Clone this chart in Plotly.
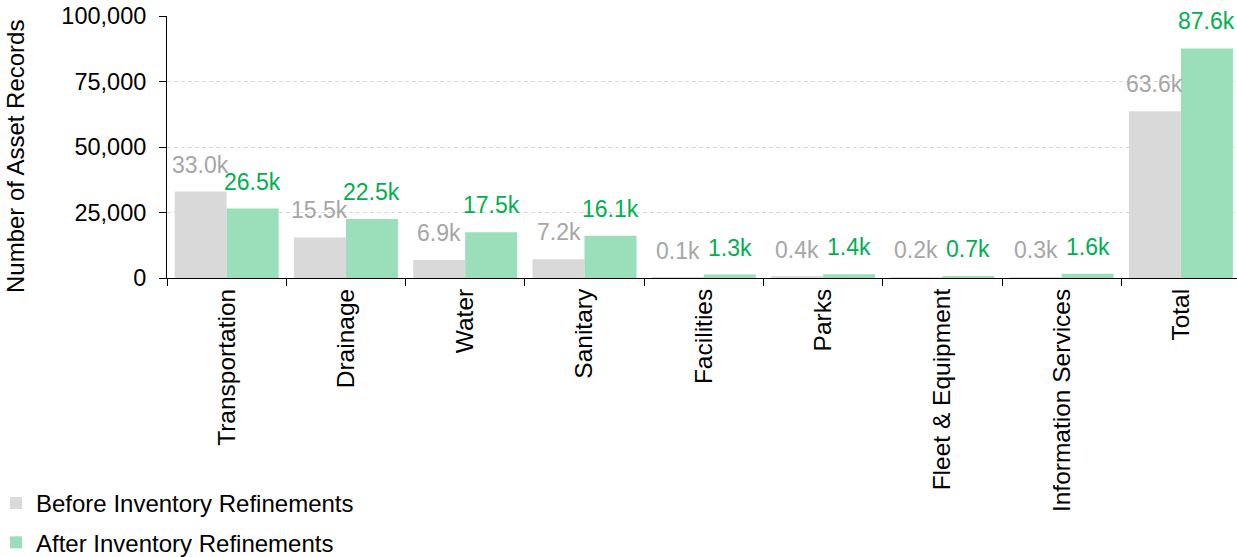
import plotly.graph_objects as go

# Asset record counts per service area, before and after inventory refinements
categories = ["Transportation", "Drainage", "Water", "Sanitary", "Facilities",
              "Parks", "Fleet & Equipment", "Information Services", "Total"]
before = [33000, 15500, 6900, 7200, 100, 400, 200, 300, 63600]
after = [26500, 22500, 17500, 16100, 1300, 1400, 700, 1600, 87600]

y_ticks = [0, 25000, 50000, 75000, 100000]

GREY = "#d9d9d9"
GREEN = "#9adfb9"
GREY_TXT = "#a6a6a6"
GREEN_TXT = "#00b050"
FONT = "Liberation Sans, Arial, sans-serif"
BARGAP = 0.128
PLOT_W = 1237 - 167

fig = go.Figure()
fig.add_trace(go.Bar(name="Before Inventory Refinements", x=categories, y=before,
                     marker=dict(color=GREY, line=dict(width=0)), legendgroup="b"))
fig.add_trace(go.Bar(name="After Inventory Refinements", x=categories, y=after,
                     marker=dict(color=GREEN, line=dict(width=0)), legendgroup="a"))

# value labels above each bar, offset to the bar's half of the group
half = (1 - BARGAP) / 4
annotations = []
for i in range(len(categories)):
    for vals, dx, col in ((before, -half, GREY_TXT), (after, half, GREEN_TXT)):
        annotations.append(dict(
            x=i + dx, y=vals[i], xref="x", yref="y",
            text=f"{vals[i] / 1000:.1f}k", showarrow=False,
            yanchor="bottom", yshift=12,
            font=dict(family=FONT, size=23, color=col)))

# y-axis title
annotations.append(dict(
    text="Number of Asset Records", xref="paper", yref="paper",
    x=(-167 + 15) / PLOT_W, y=(278 - 157) / 262, xanchor="center",
    yanchor="middle", textangle=-90, showarrow=False,
    font=dict(family=FONT, size=24, color="black")))

fig.update_layout(
    width=1237, height=557,
    barmode="group", bargap=BARGAP, bargroupgap=0,
    plot_bgcolor="white", paper_bgcolor="white",
    margin=dict(l=167, r=0, t=16, b=279, autoexpand=False),
    font=dict(family=FONT, size=23, color="black"),
    annotations=annotations,
    showlegend=True,
    legend=dict(orientation="v", xref="paper", yref="container",
                x=(-167 - 4) / PLOT_W, xanchor="left", y=1 - 481 / 557,
                yanchor="top",
                font=dict(family=FONT, size=24, color="black"),
                tracegroupgap=5, bgcolor="rgba(0,0,0,0)", borderwidth=0),
    xaxis=dict(range=[-0.5, 8.47], tickson="boundaries", ticks="outside",
               ticklen=7, tickcolor="black", tickangle=-90,
               showline=True, linecolor="black", linewidth=1,
               showgrid=False, tickfont=dict(size=24.5, color="black")),
    yaxis=dict(range=[0, 100000], tickvals=y_ticks, tickformat=",d",
               ticks="outside", ticklen=7, tickcolor="black",
               ticklabelstandoff=8,
               showline=True, linecolor="black", linewidth=1,
               showgrid=True, gridcolor="#d9d9d9", griddash="4px,3px",
               zeroline=False,
               tickfont=dict(size=23.5, color="black")),
)

fig.write_html("out.html")
